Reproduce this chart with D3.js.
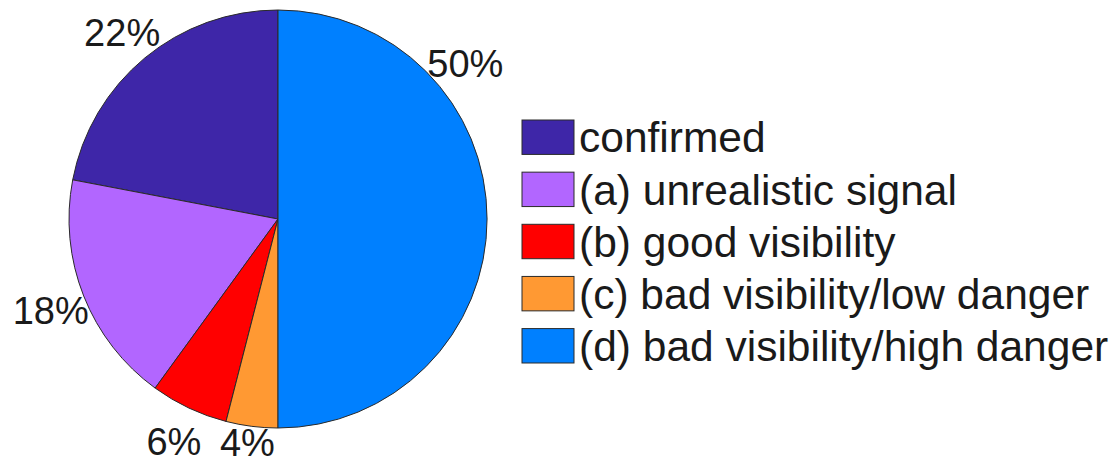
<!DOCTYPE html>
<html>
<head>
<meta charset="utf-8">
<script src="https://cdn.jsdelivr.net/npm/d3@7"></script>
<style>
  body { margin: 0; background: #fff; }
  svg { display: block; font-family: "Liberation Sans", Arial, sans-serif; }
</style>
</head>
<body>
<div id="chart"></div>
<script>
// categories, shares (%) and colours
var categories = ["confirmed", "(a) unrealistic signal", "(b) good visibility",
                  "(c) bad visibility/low danger", "(d) bad visibility/high danger"];
var shares = [22, 18, 6, 4, 50];
var labels = ["22%", "18%", "6%", "4%", "50%"];
var colors = ["#3e26a8", "#b266ff", "#ff0000", "#ff9933", "#0080ff"];

var width = 1116, height = 465;
var cx = 278, cy = 219, radius = 209;

var svg = d3.select("#chart").append("svg")
    .attr("width", width)
    .attr("height", height);

// matlab style: start at 12 o'clock, go counter-clockwise
var pie = d3.pie()
    .sort(null)
    .startAngle(0)
    .endAngle(-2 * Math.PI)
    .value(function(d) { return d; });

var arcs = pie(shares);

var arc = d3.arc().innerRadius(0).outerRadius(radius);

var g = svg.append("g").attr("transform", "translate(" + cx + "," + cy + ")");

g.selectAll("path.slice")
    .data(arcs)
  .enter().append("path")
    .attr("class", "slice")
    .attr("d", arc)
    .style("fill", function(d, i) { return colors[i]; })
    .style("stroke", "#2a2a2a")
    .style("stroke-width", 1);

// percent labels ~1.17r out on the mid angle; the 50% one sits up to the right in the figure
var labelR = radius * 1.17;
var maxY = height - cy - 24;   // keep the bottom label inside the frame

function labelAngle(d, i) {
  var a = (d.startAngle + d.endAngle) / 2;
  if (i === shares.length - 1) a = 50 / 180 * Math.PI;
  return a;
}

g.selectAll("text.pct")
    .data(arcs)
  .enter().append("text")
    .attr("class", "pct")
    .attr("x", function(d, i) { return labelR * Math.sin(labelAngle(d, i)); })
    .attr("y", function(d, i) { return Math.min(maxY, -labelR * Math.cos(labelAngle(d, i))); })
    .attr("text-anchor", "middle")
    .attr("dy", "0.4em")
    .style("font-size", "38px")
    .style("fill", "#1a1a1a")
    .text(function(d, i) { return labels[i]; });

// legend
var y = d3.scaleBand()
    .domain(categories)
    .range([120, 363])
    .paddingInner(0.34)
    .paddingOuter(0);

var legend = svg.append("g").attr("class", "legend");

var row = legend.selectAll("g")
    .data(categories)
  .enter().append("g")
    .attr("transform", function(d) { return "translate(522," + y(d) + ")"; });

row.append("rect")
    .attr("width", 52)
    .attr("height", y.bandwidth())
    .style("fill", function(d, i) { return colors[i]; })
    .style("stroke", "#2a2a2a")
    .style("stroke-width", 1);

row.append("text")
    .attr("x", 57)
    .attr("y", y.bandwidth() - 2)
    .style("font-size", "42.5px")
    .style("fill", "#1a1a1a")
    .text(function(d) { return d; });
</script>
</body>
</html>
